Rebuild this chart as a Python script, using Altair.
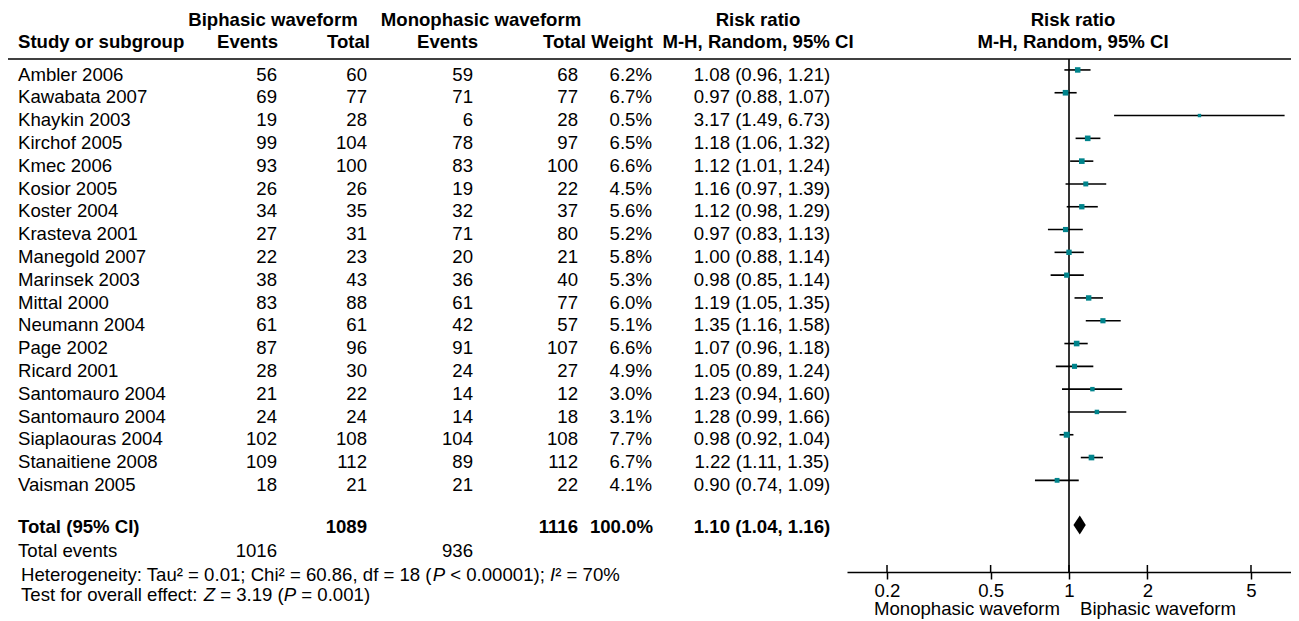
import altair as alt
import pandas as pd

# ---------------- data ----------------
studies = ["Ambler 2006", "Kawabata 2007", "Khaykin 2003", "Kirchof 2005", "Kmec 2006",
           "Kosior 2005", "Koster 2004", "Krasteva 2001", "Manegold 2007", "Marinsek 2003",
           "Mittal 2000", "Neumann 2004", "Page 2002", "Ricard 2001", "Santomauro 2004",
           "Santomauro 2004", "Siaplaouras 2004", "Stanaitiene 2008", "Vaisman 2005"]
bi_events = [56, 69, 19, 99, 93, 26, 34, 27, 22, 38, 83, 61, 87, 28, 21, 24, 102, 109, 18]
bi_total = [60, 77, 28, 104, 100, 26, 35, 31, 23, 43, 88, 61, 96, 30, 22, 24, 108, 112, 21]
mono_events = [59, 71, 6, 78, 83, 19, 32, 71, 20, 36, 61, 42, 91, 24, 14, 14, 104, 89, 21]
mono_total = [68, 77, 28, 97, 100, 22, 37, 80, 21, 40, 77, 57, 107, 27, 12, 18, 108, 112, 22]
weights = [6.2, 6.7, 0.5, 6.5, 6.6, 4.5, 5.6, 5.2, 5.8, 5.3, 6.0, 5.1, 6.6, 4.9, 3.0, 3.1, 7.7, 6.7, 4.1]
rr = [1.08, 0.97, 3.17, 1.18, 1.12, 1.16, 1.12, 0.97, 1.00, 0.98, 1.19, 1.35, 1.07, 1.05, 1.23, 1.28, 0.98, 1.22, 0.90]
ci_lo = [0.96, 0.88, 1.49, 1.06, 1.01, 0.97, 0.98, 0.83, 0.88, 0.85, 1.05, 1.16, 0.96, 0.89, 0.94, 0.99, 0.92, 1.11, 0.74]
ci_hi = [1.21, 1.07, 6.73, 1.32, 1.24, 1.39, 1.29, 1.13, 1.14, 1.14, 1.35, 1.58, 1.18, 1.24, 1.60, 1.66, 1.04, 1.35, 1.09]

total_bi_n = 1089
total_mono_n = 1116
total_bi_events = 1016
total_mono_events = 936
pooled = [1.10, 1.04, 1.16]
tick_vals = [0.2, 0.5, 1, 2, 5]

# text segments: (text, italic)
het_segments = [("Heterogeneity: Tau\u00b2 = 0.01; Chi\u00b2 = 60.86, df = 18 (", False), ("P", True),
                (" < 0.00001); ", False), ("I", True), ("\u00b2 = 70%", False)]
test_segments = [("Test for overall effect: ", False), ("Z", True), (" = 3.19 (", False),
                 ("P", True), (" = 0.001)", False)]

# ---------------- layout ----------------
FONT = "Liberation Sans"
FS = 18.6
TEAL = "#00848C"
W, H = 1283, 564

R_H1, R_H2, R_LINE = -2.39, -1.42, -0.68
R_TOT, R_EV, R_HET, R_TEST, R_BOT = 19.83, 20.88, 21.93, 22.85, 23.45
R_DIA = 19.76

# advance widths (1/1000 em) of Liberation Sans / Arial, for placing mixed-style runs
AW = {" ": 278, "(": 333, ")": 333, "%": 889, ",": 278, ".": 278, ":": 278, ";": 278,
      "<": 584, "=": 584, "\u00b2": 333, "C": 722, "H": 722, "I": 278, "P": 667, "T": 611,
      "Z": 611, "a": 556, "c": 500, "d": 556, "e": 556, "f": 278, "g": 556, "h": 556,
      "i": 222, "l": 222, "n": 556, "o": 556, "r": 333, "s": 500, "t": 278, "u": 556,
      "v": 500, "y": 500}
KERN = {"Ta": -74, "Te": -74, "To": -74}


def run_width(s):
    w = sum(AW.get(ch, 556) for ch in s)
    w += sum(KERN.get(s[i:i + 2], 0) for i in range(len(s) - 1))
    return w * FS / 1000.0


df = pd.DataFrame(dict(study=studies, be=bi_events, bt=bi_total, me=mono_events,
                       mt=mono_total, w=weights, rr=rr, lo=ci_lo, hi=ci_hi))
df["row"] = list(range(len(studies)))
df["frow"] = df["row"] - 0.2
df["wl"] = [f"{v:.1f}%" for v in weights]
df["cil"] = [f"{a:.2f} ({b:.2f}, {c:.2f})" for a, b, c in zip(rr, ci_lo, ci_hi)]

YS = alt.Scale(domain=[0, 10], range=[66.5, 294.5], nice=False, zero=False)
XS = alt.Scale(type="log", domain=[0.1404, 1 / 0.1404], range=[839, 1283], nice=False)
XAX = alt.Axis(values=tick_vals, format="~g", title=None, grid=False,
               domainColor="black", domainWidth=1.5, tickColor="black", tickWidth=1.5,
               tickSize=7, labelFont=FONT, labelFontSize=FS, labelColor="black",
               labelPadding=2, labelFlush=False)


def Y(field):
    return alt.Y(f"{field}:Q", scale=YS, axis=None)


def X(field):
    return alt.X(f"{field}:Q", scale=XS, axis=XAX)


def txt(data, field, xpx, align, bold=False, italic=False):
    return alt.Chart(data).mark_text(
        align=align, baseline="middle", font=FONT, fontSize=FS,
        fontWeight="bold" if bold else "normal",
        fontStyle="italic" if italic else "normal", color="black"
    ).encode(x=alt.value(xpx), y=Y("row"), text=alt.Text(f"{field}:N"))


def one(row, label):
    return pd.DataFrame({"row": [row], "label": [label]})


def runs(row, segments, x0):
    # SVG drops leading/trailing blanks, so blanks are turned into offsets
    out, x = [], x0
    for s, it in segments:
        lead = len(s) - len(s.lstrip(" "))
        out.append(txt(one(row, s.strip(" ")), "label", round(x + run_width(" " * lead), 2),
                       "left", italic=it))
        x += run_width(s)
    return out


layers = []

# headers
layers += [
    txt(one(R_H1, "Biphasic waveform"), "label", 265, "center", True),
    txt(one(R_H1, "Monophasic waveform"), "label", 473, "center", True),
    txt(one(R_H1, "Risk ratio"), "label", 750, "center", True),
    txt(one(R_H1, "Risk ratio"), "label", 1065, "center", True),
    txt(one(R_H2, "Study or subgroup"), "label", 10, "left", True),
    txt(one(R_H2, "Events"), "label", 270, "right", True),
    txt(one(R_H2, "Total"), "label", 362, "right", True),
    txt(one(R_H2, "Events"), "label", 470, "right", True),
    txt(one(R_H2, "Total"), "label", 578, "right", True),
    txt(one(R_H2, "Weight"), "label", 645, "right", True),
    txt(one(R_H2, "M-H, Random, 95% CI"), "label", 750, "center", True),
    txt(one(R_H2, "M-H, Random, 95% CI"), "label", 1065, "center", True),
]

# header rule
layers.append(
    alt.Chart(pd.DataFrame({"row": [R_LINE]})).mark_rule(color="black", strokeWidth=1.6)
    .encode(x=alt.value(0), x2=alt.value(W), y=Y("row"))
)

# study rows
layers += [
    txt(df, "study", 10, "left"),
    txt(df, "be", 269, "right"),
    txt(df, "bt", 359, "right"),
    txt(df, "me", 465, "right"),
    txt(df, "mt", 570, "right"),
    txt(df, "wl", 644, "right"),
    txt(df, "cil", 754, "center"),
]

# total rows
layers += [
    txt(one(R_TOT, "Total (95% CI)"), "label", 10, "left", True),
    txt(one(R_TOT, str(total_bi_n)), "label", 359, "right", True),
    txt(one(R_TOT, str(total_mono_n)), "label", 570, "right", True),
    txt(one(R_TOT, "100.0%"), "label", 645, "right", True),
    txt(one(R_TOT, f"{pooled[0]:.2f} ({pooled[1]:.2f}, {pooled[2]:.2f})"), "label", 754, "center", True),
    txt(one(R_EV, "Total events"), "label", 10, "left"),
    txt(one(R_EV, str(total_bi_events)), "label", 269, "right"),
    txt(one(R_EV, str(total_mono_events)), "label", 465, "right"),
]
layers += runs(R_HET, het_segments, 13)
layers += runs(R_TEST, test_segments, 13)

# forest: line of no effect
layers.append(
    alt.Chart(pd.DataFrame({"v": [1.0], "row": [R_LINE]})).mark_rule(color="black", strokeWidth=1.6)
    .encode(x=X("v"), y=Y("row"), y2=alt.value(H))
)
# CI lines
layers.append(
    alt.Chart(df).mark_rule(color="black", strokeWidth=1.6)
    .encode(x=X("lo"), x2="hi:Q", y=Y("frow"))
)
# squares
layers.append(
    alt.Chart(df).mark_square(color=TEAL, opacity=1, filled=True)
    .encode(x=X("rr"), y=Y("frow"),
            size=alt.Size("w:Q", scale=alt.Scale(domain=[0, 8], range=[10, 36]), legend=None))
)
# pooled diamond
HH = 0.417
dia = pd.DataFrame({"x": [pooled[1], pooled[0], pooled[2]],
                    "y": [R_DIA, R_DIA - HH, R_DIA],
                    "y2": [R_DIA, R_DIA + HH, R_DIA]})
layers.append(
    alt.Chart(dia).mark_area(color="black", orient="vertical", interpolate="linear")
    .encode(x=X("x"), y=Y("y"), y2="y2:Q")
)
# upward tick stubs
layers.append(
    alt.Chart(pd.DataFrame({"t": tick_vals})).mark_rule(color="black", strokeWidth=1.5)
    .encode(x=X("t"), y=alt.value(H - 7), y2=alt.value(H))
)
# direction labels
bot = pd.DataFrame({"v": [1.0], "row": [R_BOT]})
layers.append(
    alt.Chart(bot).mark_text(align="right", baseline="middle", dx=-9, font=FONT, fontSize=FS, color="black")
    .encode(x=X("v"), y=Y("row"), text=alt.value("Monophasic waveform"))
)
layers.append(
    alt.Chart(bot).mark_text(align="left", baseline="middle", dx=11, font=FONT, fontSize=FS, color="black")
    .encode(x=X("v"), y=Y("row"), text=alt.value("Biphasic waveform"))
)

chart = alt.layer(*layers).properties(
    width=W, height=H,
    padding={"left": 0, "top": 0, "right": 0, "bottom": 49},
    autosize=alt.AutoSizeParams(type="none"),
).configure(background="white").configure_view(stroke=None)

chart.save("out.html", embed_options={"renderer": "svg", "actions": False})
